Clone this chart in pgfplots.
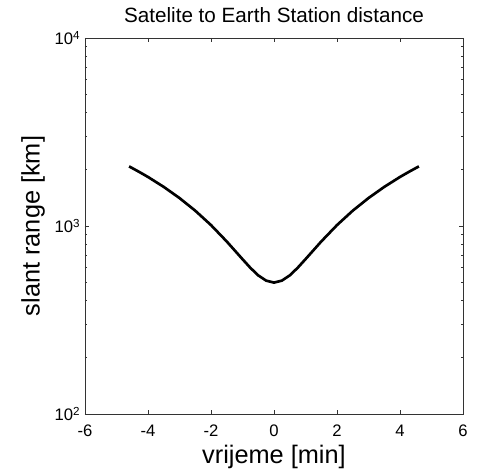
\documentclass[border=0pt]{standalone}
\usepackage{fontspec}
\setmainfont{Liberation Sans}
\usepackage{pgfplots}
\pgfplotsset{compat=1.18}
\begin{document}
\begin{tikzpicture}
\begin{axis}[
    scale only axis,
    width=283.5pt, height=282pt,
    ymode=log,
    xmin=-6, xmax=6, ymin=100, ymax=10000,
    xtick={-6,-4,...,6},
    ytick={100,1000,10000},
    yticklabels={10\textsuperscript{2},10\textsuperscript{3},10\textsuperscript{4}},
    /pgf/number format/assume math mode=true,
    tick align=inside,
    major tick length=3pt, minor tick length=1.8pt,
    axis line style={black!80, line width=0.6pt},
    tick style={black!80, line width=0.5pt},
    ticklabel style={font=\fontsize{12.5pt}{14pt}\selectfont},
    xticklabel style={yshift=-5pt},
    xlabel={vrijeme [min]}, ylabel={slant range [km]},
    label style={font=\fontsize{19pt}{21pt}\selectfont},
    xlabel style={at={(axis description cs:0.5,-0.1144)}, anchor=center},
    ylabel style={at={(axis description cs:-0.1376,0.5)}, anchor=center},
    title={Satelite to Earth Station distance},
    title style={font=\fontsize{15.5pt}{17pt}\selectfont, at={(axis description cs:0.5,1.019)}, anchor=south, inner sep=0pt},
]
\addplot[black, line width=2pt, mark=none] coordinates {
(-4.6,2075) (-4.3,1948) (-4.0,1823) (-3.5,1614) (-3.0,1408) (-2.5,1206)
(-2.0,1011) (-1.5,827) (-1.0,666) (-0.75,599) (-0.5,546) (-0.25,512) (0,500)
(0.25,512) (0.5,546) (0.75,599) (1.0,666) (1.5,827) (2.0,1011) (2.5,1206)
(3.0,1408) (3.5,1614) (4.0,1823) (4.3,1948) (4.6,2075)
};
\end{axis}
\pgfresetboundingbox
\useasboundingbox ([shift={(-63.75pt,-44.25pt)}]current axis.south west) rectangle ([shift={(10.5pt,28.5pt)}]current axis.north east);
\end{tikzpicture}
\end{document}
